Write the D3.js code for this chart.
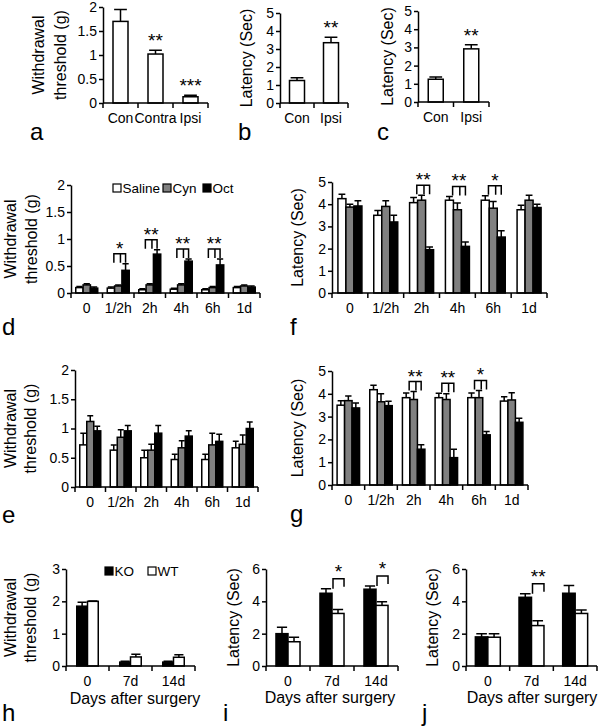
<!DOCTYPE html>
<html><head><meta charset="utf-8">
<script src="https://cdn.jsdelivr.net/npm/d3@7"></script>
<style>
body{margin:0;background:#fff}
svg{display:block;background:#fff}
</style>
</head><body>
<svg id="c" width="600" height="728"></svg>
<script>
// ---------------- data ----------------
const catsA = ["Con", "Contra", "Ipsi"];
const valsA = [1.7, 1.02, 0.13];
const errA  = [0.25, 0.08, 0.03];
const starsA = ["", "**", "***"];

const catsBC = ["Con", "Ipsi"];
const valsB = [1.25, 3.35];
const errB  = [0.15, 0.3];
const starsB = ["", "**"];
const valsC = [1.25, 2.92];
const errC  = [0.13, 0.23];
const starsC = ["", "**"];

const timeCats = ["0", "1/2h", "2h", "4h", "6h", "1d"];
const drugSeries = ["Saline", "Cyn", "Oct"];

const dSaline    = [0.10, 0.09, 0.06, 0.07, 0.06, 0.10];
const dSalineErr = [0.02, 0.02, 0.02, 0.02, 0.02, 0.02];
const dCyn       = [0.15, 0.13, 0.15, 0.15, 0.10, 0.13];
const dCynErr    = [0.02, 0.02, 0.02, 0.02, 0.02, 0.02];
const dOct       = [0.09, 0.42, 0.72, 0.59, 0.52, 0.11];
const dOctErr    = [0.02, 0.12, 0.08, 0.04, 0.11, 0.02];
const starsD = ["", "*", "**", "**", "**", ""];

const fSaline    = [4.25, 3.50, 4.07, 4.18, 4.18, 3.75];
const fSalineErr = [0.20, 0.22, 0.23, 0.17, 0.20, 0.20];
const fCyn       = [3.87, 3.90, 4.18, 3.75, 3.82, 4.18];
const fCynErr    = [0.13, 0.25, 0.22, 0.30, 0.30, 0.22];
const fOct       = [3.92, 3.20, 1.95, 2.10, 2.52, 3.85];
const fOctErr    = [0.23, 0.30, 0.12, 0.20, 0.28, 0.15];
const starsF = ["", "", "**", "**", "*", ""];

const eSaline    = [0.72, 0.63, 0.50, 0.47, 0.47, 0.67];
const eSalineErr = [0.20, 0.09, 0.13, 0.09, 0.09, 0.11];
const eCyn       = [1.12, 0.85, 0.63, 0.67, 0.72, 0.73];
const eCynErr    = [0.10, 0.13, 0.10, 0.12, 0.20, 0.16];
const eOct       = [0.96, 0.96, 0.92, 0.87, 0.78, 1.00];
const eOctErr    = [0.08, 0.09, 0.13, 0.09, 0.12, 0.11];
const starsE = ["", "", "", "", "", ""];

const gSaline    = [3.50, 4.18, 3.83, 3.83, 3.83, 3.68];
const gSalineErr = [0.20, 0.20, 0.20, 0.19, 0.20, 0.19];
const gCyn       = [3.70, 3.65, 3.75, 3.75, 3.83, 3.73];
const gCynErr    = [0.20, 0.35, 0.35, 0.25, 0.32, 0.32];
const gOct       = [3.38, 3.48, 1.57, 1.20, 2.20, 2.75];
const gOctErr    = [0.22, 0.19, 0.20, 0.37, 0.15, 0.18];
const starsG = ["", "", "**", "**", "*", ""];

const dayCats = ["0", "7d", "14d"];
const genotypes = ["KO", "WT"];
const hKO    = [1.85, 0.12, 0.12];
const hKOErr = [0.12, 0.03, 0.03];
const hWT    = [2.00, 0.28, 0.27];
const hWTErr = [0.01, 0.08, 0.08];
const starsH = ["", "", ""];

const iKO    = [2.00, 4.50, 4.75];
const iKOErr = [0.40, 0.28, 0.20];
const iWT    = [1.50, 3.25, 3.75];
const iWTErr = [0.28, 0.25, 0.22];
const starsI = ["", "*", "*"];

const jKO    = [1.80, 4.25, 4.50];
const jKOErr = [0.20, 0.22, 0.48];
const jWT    = [1.78, 2.50, 3.25];
const jWTErr = [0.22, 0.30, 0.22];
const starsJ = ["", "**", ""];

const ticks2 = [0, 0.5, 1, 1.5, 2];
const ticks5 = [0, 1, 2, 3, 4, 5];
const ticks3 = [0, 1, 2, 3];
const ticks6 = [0, 2, 4, 6];

// ---------------- drawing ----------------
const FONT = '"Liberation Sans", Arial, Helvetica, sans-serif';
const LW = 1.5;
const TICKFS = 14;
const WHITE = "#ffffff", GRAY = "#808080", BLACK = "#000000";
const svg = d3.select("#c");

function txt(g, x, y, s, size, anchor) {
  return g.append("text").attr("x", x).attr("y", y).text(s)
    .attr("font-family", FONT).attr("font-size", size)
    .attr("text-anchor", anchor || "start").attr("fill", "#000");
}

function drawPanel(o) {
  const g = svg.append("g");
  const y = d3.scaleLinear().domain([0, o.max]).range([o.y0, o.y1]);
  const x = d3.scaleBand().domain(o.cats).range([o.x0, o.x1]);
  const sub = d3.scaleBand().domain(d3.range(o.series.length))
    .range([0, x.bandwidth()]).paddingInner(0).paddingOuter(o.pad);
  const bw = sub.bandwidth();
  const cx = (c, k) => x(c) + sub(k) + bw / 2;

  // bars
  o.series.forEach((s, si) => {
    g.append("g").selectAll("rect").data(o.cats).enter().append("rect")
      .attr("x", c => x(c) + sub(si))
      .attr("y", (c, i) => y(s.vals[i]))
      .attr("width", bw)
      .attr("height", (c, i) => y(0) - y(s.vals[i]))
      .attr("fill", s.fill).attr("stroke", "#000").attr("stroke-width", LW);
  });
  // error bars
  const cap = bw * 0.85;
  o.series.forEach((s, si) => {
    o.cats.forEach((c, i) => {
      if (!(s.errs[i] > 0)) return;
      const xc = cx(c, si), yt = y(s.vals[i] + s.errs[i]), yb = y(s.vals[i]);
      g.append("path")
        .attr("d", `M${xc},${yb}V${yt}M${xc - cap / 2},${yt}H${xc + cap / 2}`)
        .attr("stroke", "#000").attr("stroke-width", LW).attr("fill", "none");
    });
  });

  // y axis
  const ya = d3.axisLeft(y).tickValues(o.ticks).tickSize(4).tickPadding(2)
    .tickSizeOuter(0).tickFormat(d => String(d));
  const ag = g.append("g").attr("transform", `translate(${o.x0},0)`).call(ya);
  ag.selectAll("path,line").attr("stroke", "#000").attr("stroke-width", LW);
  ag.selectAll("text").attr("font-family", FONT).attr("font-size", TICKFS).attr("fill", "#000");

  // x axis
  g.append("line").attr("x1", o.x0).attr("x2", o.x1).attr("y1", y(0)).attr("y2", y(0))
    .attr("stroke", "#000").attr("stroke-width", LW);
  const bounds = o.cats.map(c => x(c)).concat([o.x1]);
  bounds.forEach(b => {
    g.append("line").attr("x1", b).attr("x2", b).attr("y1", y(0)).attr("y2", y(0) + 5)
      .attr("stroke", "#000").attr("stroke-width", LW);
  });
  o.cats.forEach(c => txt(g, x(c) + x.bandwidth() / 2, y(0) + 20, c, TICKFS, "middle"));

  // stars / brackets
  o.cats.forEach((c, i) => {
    const st = o.stars[i];
    if (!st) return;
    if (o.mode === "single") {
      const yt = y(o.series[0].vals[i] + o.series[0].errs[i]);
      txt(g, cx(c, 0), yt - 3, st, 19, "middle");
    } else if (o.mode === "three") {
      const mx = d3.max(o.series, s => s.vals[i] + s.errs[i]);
      const top = y(mx) - 10;
      const l1 = cx(c, 0) + 0.4 * bw, l2 = cx(c, 1) + 0.3 * bw, l3 = cx(c, 2);
      g.append("path")
        .attr("d", `M${l1},${top + 9}V${top}H${l3}V${top + 9}M${l2},${top}V${top + 9}`)
        .attr("stroke", "#000").attr("stroke-width", LW).attr("fill", "none");
      txt(g, (l1 + l3) / 2, top + 1, st, 19, "middle");
    } else if (o.mode === "two") {
      const yk = y(o.series[0].vals[i] + o.series[0].errs[i]);
      const top = yk - 10;
      const left = cx(c, 0) + bw / 2 + 1, right = cx(c, 1) + bw / 2;
      g.append("path")
        .attr("d", `M${left},${yk}V${top}H${right}V${top + 8}`)
        .attr("stroke", "#000").attr("stroke-width", LW).attr("fill", "none");
      txt(g, (left + right) / 2, top - 0.5, st, 19, "middle");
    }
  });

  // y label
  const ymid = (o.y0 + o.y1) / 2;
  o.ylab.forEach((s, k) => {
    g.append("text").text(s)
      .attr("transform", `translate(${o.ylabX[k]},${ymid}) rotate(-90)`)
      .attr("text-anchor", "middle").attr("dominant-baseline", "central")
      .attr("font-family", FONT).attr("font-size", 16).attr("fill", "#000");
  });
  // x title
  if (o.xtitle) txt(g, o.xtitle[1], o.xtitle[2], o.xtitle[0], 16, "middle");
  // panel letter
  txt(g, o.lx, o.ly, o.letter, 24, "start");
  return g;
}

function legend(items, x0s, yc) {
  const g = svg.append("g");
  items.forEach((it, k) => {
    g.append("rect").attr("x", x0s[k]).attr("y", yc - 4).attr("width", 8).attr("height", 8)
      .attr("fill", it.fill).attr("stroke", "#000").attr("stroke-width", 1.2);
    txt(g, x0s[k] + 9.5, yc + 5, it.name, 13.5, "start");
  });
}

const WD = ["Withdrawal", "threshold (g)"];
const LAT = ["Latency (Sec)"];

drawPanel({x0:103, x1:208, y0:103, y1:7, max:2, ticks:ticks2, cats:catsA,
  series:[{vals:valsA, errs:errA, fill:WHITE}], pad:0.667, stars:starsA, mode:"single",
  ylab:WD, ylabX:[38, 60], letter:"a", lx:30, ly:140});
drawPanel({x0:280, x1:348, y0:103, y1:13, max:5, ticks:ticks5, cats:catsBC,
  series:[{vals:valsB, errs:errB, fill:WHITE}], pad:0.633, stars:starsB, mode:"single",
  ylab:LAT, ylabX:[246], letter:"b", lx:238, ly:140});
drawPanel({x0:418, x1:489, y0:102, y1:11, max:5, ticks:ticks5, cats:catsBC,
  series:[{vals:valsC, errs:errC, fill:WHITE}], pad:0.683, stars:starsC, mode:"single",
  ylab:LAT, ylabX:[387], letter:"c", lx:377, ly:140});

const drugFills = [WHITE, GRAY, BLACK];
drawPanel({x0:71, x1:260, y0:293, y1:185, max:2, ticks:ticks2, cats:timeCats,
  series:[{vals:dSaline, errs:dSalineErr, fill:drugFills[0]},
          {vals:dCyn, errs:dCynErr, fill:drugFills[1]},
          {vals:dOct, errs:dOctErr, fill:drugFills[2]}],
  pad:0.65, stars:starsD, mode:"three", ylab:WD, ylabX:[10, 31], letter:"d", lx:2, ly:335});
legend(drugSeries.map((n, k) => ({name:n, fill:drugFills[k]})), [113, 163, 203], 188);

drawPanel({x0:332, x1:547, y0:293, y1:182, max:5, ticks:ticks5, cats:timeCats,
  series:[{vals:fSaline, errs:fSalineErr, fill:drugFills[0]},
          {vals:fCyn, errs:fCynErr, fill:drugFills[1]},
          {vals:fOct, errs:fOctErr, fill:drugFills[2]}],
  pad:0.74, stars:starsF, mode:"three", ylab:LAT, ylabX:[297], letter:"f", lx:290, ly:335});

drawPanel({x0:75, x1:258, y0:487, y1:370, max:2, ticks:ticks2, cats:timeCats,
  series:[{vals:eSaline, errs:eSalineErr, fill:drugFills[0]},
          {vals:eCyn, errs:eCynErr, fill:drugFills[1]},
          {vals:eOct, errs:eOctErr, fill:drugFills[2]}],
  pad:0.68, stars:starsE, mode:"three", ylab:WD, ylabX:[10, 30], letter:"e", lx:2, ly:523});

drawPanel({x0:332, x1:528, y0:485, y1:371, max:5, ticks:ticks5, cats:timeCats,
  series:[{vals:gSaline, errs:gSalineErr, fill:drugFills[0]},
          {vals:gCyn, errs:gCynErr, fill:drugFills[1]},
          {vals:gOct, errs:gOctErr, fill:drugFills[2]}],
  pad:0.68, stars:starsG, mode:"three", ylab:LAT, ylabX:[297], letter:"g", lx:290, ly:522});

const genoFills = [BLACK, WHITE];
const XT = "Days after surgery";
drawPanel({x0:66, x1:195, y0:666, y1:569, max:3, ticks:ticks3, cats:dayCats,
  series:[{vals:hKO, errs:hKOErr, fill:genoFills[0]}, {vals:hWT, errs:hWTErr, fill:genoFills[1]}],
  pad:1.0, stars:starsH, mode:"two", ylab:WD, ylabX:[10, 30], letter:"h", lx:2, ly:721,
  xtitle:[XT, 135, 704]});
legend(genotypes.map((n, k) => ({name:n, fill:genoFills[k]})), [105, 148], 571);

drawPanel({x0:266, x1:398, y0:666, y1:569, max:6, ticks:ticks6, cats:dayCats,
  series:[{vals:iKO, errs:iKOErr, fill:genoFills[0]}, {vals:iWT, errs:iWTErr, fill:genoFills[1]}],
  pad:0.83, stars:starsI, mode:"two", ylab:LAT, ylabX:[233], letter:"i", lx:223, ly:721,
  xtitle:[XT, 330, 703]});

drawPanel({x0:466, x1:597, y0:666, y1:569, max:6, ticks:ticks6, cats:dayCats,
  series:[{vals:jKO, errs:jKOErr, fill:genoFills[0]}, {vals:jWT, errs:jWTErr, fill:genoFills[1]}],
  pad:0.75, stars:starsJ, mode:"two", ylab:LAT, ylabX:[432], letter:"j", lx:422, ly:721,
  xtitle:[XT, 532, 703]});
</script>
</body></html>
